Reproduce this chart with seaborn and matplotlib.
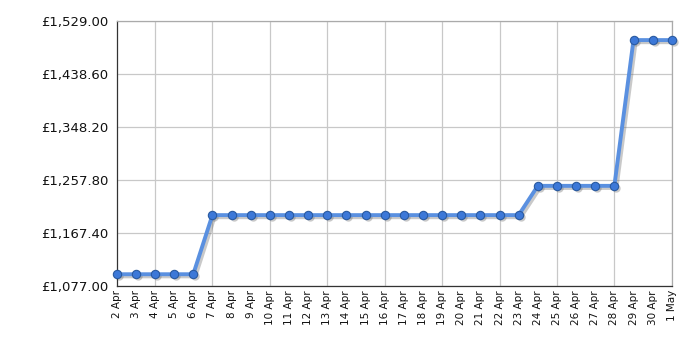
import matplotlib
matplotlib.use("Agg")
import matplotlib.pyplot as plt
import matplotlib.transforms as mtransforms
import seaborn as sns
import pandas as pd
import numpy as np

dates = ["2 Apr", "3 Apr", "4 Apr", "5 Apr", "6 Apr", "7 Apr", "8 Apr", "9 Apr",
         "10 Apr", "11 Apr", "12 Apr", "13 Apr", "14 Apr", "15 Apr", "16 Apr",
         "17 Apr", "18 Apr", "19 Apr", "20 Apr", "21 Apr", "22 Apr", "23 Apr",
         "24 Apr", "25 Apr", "26 Apr", "27 Apr", "28 Apr", "29 Apr", "30 Apr", "1 May"]
prices = [1097.0] * 5 + [1198.0] * 17 + [1248.0] * 5 + [1497.0] * 3
y_ticks = [1077.00, 1167.40, 1257.80, 1348.20, 1438.60, 1529.00]

sns.set_style("white")
plt.rcParams['font.family'] = ['DejaVu Sans']

df = pd.DataFrame({"idx": np.arange(len(dates)), "price": prices})

fig = plt.figure(figsize=(7, 3.5), dpi=100)
ax = fig.add_axes([0.1667, 0.183, 0.793, 0.756])

# shadow
shadow = mtransforms.offset_copy(ax.transData, fig=fig, x=2, y=-2, units='dots')
ax.plot(df["idx"], df["price"], color="#666666", alpha=0.35, lw=3,
        transform=shadow, zorder=2, clip_on=False)
ax.scatter(df["idx"], df["price"], s=36, color="#666666", alpha=0.35,
           transform=shadow, zorder=2, linewidths=0, clip_on=False)

sns.lineplot(data=df, x="idx", y="price", ax=ax, color="#5a90e0", lw=2.8, zorder=3)
sns.scatterplot(data=df, x="idx", y="price", ax=ax, s=36, color="#3c78d8",
                edgecolor="#2a5aa0", linewidth=0.8, zorder=4, clip_on=False)

ax.set_xlim(0, len(dates) - 1)
ax.set_ylim(y_ticks[0], y_ticks[-1])
ax.set_yticks(y_ticks)
ax.set_yticklabels([f"£{v:,.2f}" for v in y_ticks], fontsize=9.5, color="#111111")

ax.set_xticks(np.arange(len(dates)))
ax.set_xticklabels(dates, rotation=90, fontsize=7.5, color="#111111")
ax.set_xticks(np.arange(2, len(dates), 3), minor=True)
ax.tick_params(axis='x', which='major', length=0, pad=3)
ax.tick_params(axis='x', which='minor', length=4, color="#222222", direction='out')
ax.tick_params(axis='y', length=4, color="#222222", direction='out', pad=2)

ax.grid(False)
for xv in np.arange(2, len(dates), 3):
    ax.axvline(xv, color="#c8c8c8", lw=0.9, zorder=1)
for yv in y_ticks:
    ax.axhline(yv, color="#c8c8c8", lw=0.9, zorder=1)

for s in ax.spines.values():
    s.set_color("#aaaaaa")
    s.set_linewidth(0.9)
ax.spines['left'].set_color("#333333")
ax.spines['bottom'].set_color("#333333")

ax.set_xlabel("")
ax.set_ylabel("")

fig.savefig("out.png", dpi=100)
